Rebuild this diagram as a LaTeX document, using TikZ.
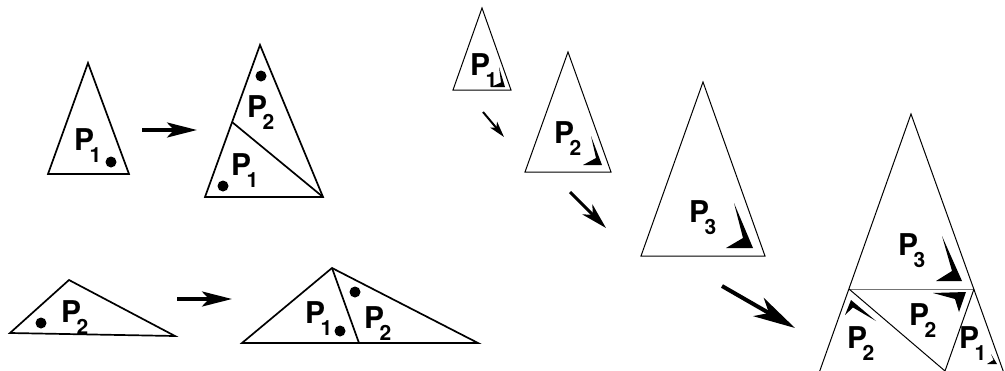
\documentclass[tikz,border=0pt]{standalone}
\usepackage{fontspec}
\setmainfont{TeX Gyre Heros}
\usetikzlibrary{arrows.meta}
\newcommand\PL[1]{P\kern-4.5pt\raisebox{-12pt}{\fontsize{21}{21}\selectfont #1}}
\tikzset{
  lab/.style={anchor=base west,inner sep=0pt,font=\fontsize{30}{30}\selectfont\bfseries},
  triL/.style={line width=1.7pt,line join=miter},
  triR/.style={line width=1pt,line join=miter},
  dot/.style={fill=black},
  bigarrow/.style={line width=3.5pt,-{Stealth[length=30pt,width=15pt,inset=7pt]}},
}
\begin{document}
\begin{tikzpicture}[x=1pt,y=-1pt]
\useasboundingbox (0,0) rectangle (1005,370);
\clip (0,0) rectangle (1005,370);
% ---------- top-left ----------
\draw[triL] (88,63) -- (48,174) -- (129,174) -- cycle;
\node[lab] (a1) at (74,150) {\PL{1}};
\fill[dot] (111,162) circle (5.5);
\coordinate (ar1s) at (142,130); \coordinate (ar1e) at (197,130);
\draw[bigarrow] (ar1s) -- (ar1e);
\draw[triL] (260,45) -- (205,197) -- (323,197) -- cycle;
\draw[triL] (232,122) -- (323,197);
\fill[dot] (261,76) circle (5.5);
\node[lab] (b2) at (247,117) {\PL{2}};
\node[lab] (b1) at (231,175) {\PL{1}};
\fill[dot] (223,186) circle (5.5);
% ---------- bottom-left ----------
\draw[triL] (10,333) -- (69,280) -- (175,336) -- cycle;
\fill[dot] (41,323) circle (5.5);
\node[lab] (c2) at (61,322) {\PL{2}};
\coordinate (ar2s) at (177,299); \coordinate (ar2e) at (232,299);
\draw[bigarrow] (ar2s) -- (ar2e);
\draw[triL] (332,268) -- (242,343) -- (478,343) -- cycle;
\draw[triL] (332,268) -- (359,343);
\fill[dot] (355,292) circle (5.5);
\fill[dot] (340,331) circle (5.5);
\node[lab] (d1) at (305,323) {\PL{1}};
\node[lab] (d2) at (364,328) {\PL{2}};
% ---------- right: sequence ----------
\draw[triR] (482,8) -- (453,90) -- (511,90) -- cycle;
\node[lab] (e1) at (470,75) {\PL{1}};
\fill (499,67) -- (505,87) -- (491,87) -- (501,82.5) -- cycle;
\coordinate (s1) at (483,112); \coordinate (e1a) at (504,137);
\draw[line width=2pt,-{Stealth[length=16pt,width=9pt,inset=4pt]}] (s1) -- (e1a);
\draw[triR] (568,52) -- (525,172) -- (611,172) -- cycle;
\node[lab] (f2) at (554,143) {\PL{2}};
\fill (591,136) -- (602,165) -- (583,165) -- (596,158) -- cycle;
\coordinate (s2) at (570,192); \coordinate (e2a) at (606,228);
\draw[line width=3pt,-{Stealth[length=26pt,width=14pt,inset=7pt]}] (s2) -- (e2a);
\draw[triR] (703,82) -- (641,256) -- (765,256) -- cycle;
\node[lab] (g3) at (689,222) {\PL{3}};
\fill (734,203) -- (753,248) -- (726,248) -- (743,238) -- cycle;
\coordinate (s3) at (722,286); \coordinate (e3a) at (795,328);
\draw[line width=4pt,-{Stealth[length=42pt,width=21pt,inset=12pt]}] (s3) -- (e3a);
% ---------- big triangle ----------
\draw[triR] (911,114) -- (813,390) -- (1010,390) -- cycle;
\draw[line width=1pt,black!55] (849,289) -- (974,289);
\draw[triR] (849,289) -- (945,371) -- (974,289);
\node[lab] (h3) at (898,255) {\PL{3}};
\fill (942,236) -- (962,281) -- (936,281) -- (952,271) -- cycle;
\node[lab] (h2) at (909,325) {\PL{2}};
\fill (933,293) -- (966,292) -- (959,312) -- (955,299) -- cycle;
\node[lab] (h2b) at (847,348) {\PL{2}};
\fill (876,321) -- (851,300) -- (845,315) -- (853,307.5) -- cycle;
\node[lab] (h1) at (959,348) {\PL{1}};
\fill (991,354) -- (997,364) -- (987,364) -- (993.5,360) -- cycle;
\end{tikzpicture}
\end{document}
